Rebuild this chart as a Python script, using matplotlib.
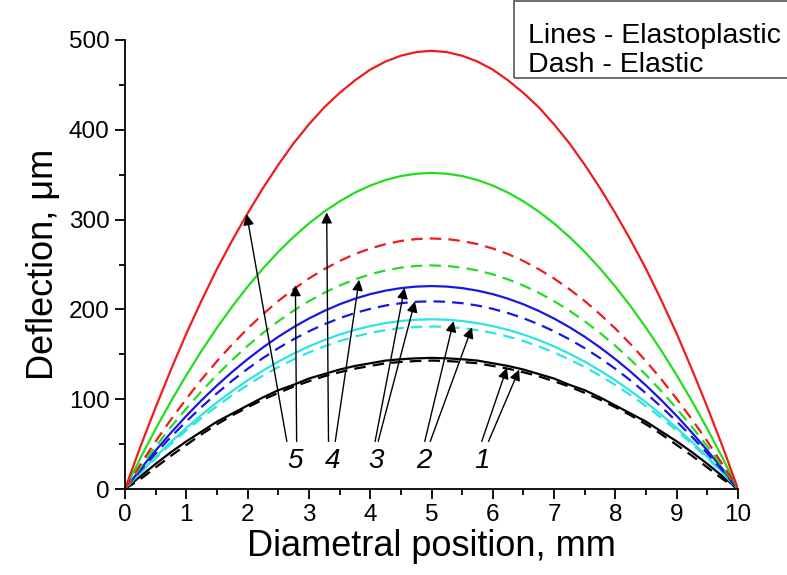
# Deflection profiles across the plate diameter: elastoplastic (solid) vs elastic (dashed)

import matplotlib.pyplot as plt
import numpy as np
from matplotlib.patches import Rectangle
from matplotlib.ticker import MultipleLocator

plt.rcParams['font.family'] = ['Liberation Sans', 'DejaVu Sans']

# Data
# positions 0 .. 10 mm every 0.25 mm
position = np.linspace(0, 10, 41)

# half profiles (0 .. 5 mm), the other half is the mirror image
half_1_solid = [0, 14, 28, 41, 53, 64, 75, 84, 93, 102, 110,
                116, 123, 128, 133, 137, 140, 143, 144.5, 145.5, 146]
half_1_dash = [0, 11, 24, 37, 49, 61, 72, 82, 91, 99.5, 107,
               114, 120, 125.5, 130, 134, 137, 140, 141.5, 142.5, 143]
half_2_solid = [0, 18.4, 35.9, 52.4, 68, 82.7, 96.4, 109.1, 121, 131.8, 141.8,
                150.7, 158.8, 165.8, 172, 177.2, 181.4, 184.7, 187.1, 188.5, 189]
half_2_dash = [0, 17.6, 34.4, 50.2, 65.2, 79.2, 92.3, 104.5, 115.8, 126.2, 135.8,
               144.3, 152, 158.8, 164.7, 169.7, 173.8, 176.9, 179.2, 180.5, 181]
half_3_solid = [0, 22, 42.9, 62.7, 81.4, 98.9, 115.3, 130.5, 144.6, 157.6, 169.5,
                180.2, 189.8, 198.3, 205.7, 211.9, 217, 220.9, 223.7, 225.4, 226]
half_3_dash = [0, 20.4, 39.7, 58, 75.2, 91.4, 106.6, 120.7, 133.8, 145.8, 156.8,
               166.7, 175.6, 183.4, 190.2, 195.9, 200.6, 204.3, 206.9, 208.5, 209]
half_4_solid = [0, 34.3, 66.9, 97.7, 126.7, 154, 179.5, 203.3, 225.3, 245.5, 264,
                280.7, 295.7, 308.9, 320.3, 330, 337.9, 344.1, 348.5, 351.1, 352]
half_4_dash = [0, 24.3, 47.3, 69.1, 89.6, 108.9, 127, 143.8, 159.4, 173.7, 186.8,
               198.6, 209.2, 218.5, 226.6, 233.4, 239, 243.4, 246.5, 248.4, 249]
half_5_solid = [0, 47, 91, 133, 173, 210, 245, 277, 307, 335, 361,
                385, 406, 425, 441, 455, 467, 476, 482.5, 486.5, 488]
half_5_dash = [0, 27.2, 53, 77.4, 100.4, 122.1, 142.3, 161.1, 178.6, 194.6, 209.3,
               222.5, 234.4, 244.8, 253.9, 261.6, 267.8, 272.7, 276.2, 278.3, 279]

labels = ['1', '2', '3', '4', '5']
colors = ['black', '#2ee3e3', '#1818e0', '#22dd22', '#ee1c1c']
label_x = [5.82, 4.87, 4.10, 3.39, 2.77]
label_y = 31
# arrow tails (x) and heads (x, y) for solid and dashed curves of each case
tail_x = [(5.82, 5.93), (4.89, 4.98), (4.08, 4.13), (3.32, 3.43), (2.64, 2.80)]
tail_y = 53
head_solid = [(6.23, 135), (5.36, 187), (4.56, 224), (3.29, 308), (1.985, 306)]
head_dash = [(6.43, 133), (5.66, 180), (4.73, 209), (3.82, 233), (2.78, 227)]


def full(half):
    return half + half[-2::-1]


solids = [half_1_solid, half_2_solid, half_3_solid, half_4_solid, half_5_solid]
dashes = [half_1_dash, half_2_dash, half_3_dash, half_4_dash, half_5_dash]

fig = plt.figure(figsize=(7.87, 5.75), dpi=100)
ax = fig.add_axes([125 / 787, 86 / 575, 613 / 787, 449 / 575])

for i in range(5):
    ax.plot(position, full(solids[i]), color=colors[i], lw=1.6)
    ax.plot(position, full(dashes[i]), color=colors[i], lw=1.6, dashes=(5.2, 3.2))

for i in range(5):
    for (tx, (hx, hy)) in zip(tail_x[i], [head_solid[i], head_dash[i]]):
        ax.annotate('', xy=(hx, hy), xytext=(tx, tail_y),
                    arrowprops=dict(arrowstyle='-|>', color='black', lw=1.0,
                                    mutation_scale=16, shrinkA=0, shrinkB=0))
    ax.text(label_x[i], label_y, labels[i], fontsize=20, style='italic',
            ha='center', va='center')

ax.set_xlim(0, 10)
ax.set_ylim(0, 500)
ax.spines['top'].set_visible(False)
ax.spines['right'].set_visible(False)
ax.spines['left'].set_linewidth(1.3)
ax.spines['bottom'].set_linewidth(1.3)
ax.xaxis.set_major_locator(MultipleLocator(1))
ax.xaxis.set_minor_locator(MultipleLocator(0.5))
ax.yaxis.set_major_locator(MultipleLocator(100))
ax.yaxis.set_minor_locator(MultipleLocator(50))
ax.tick_params(which='major', direction='out', length=7, width=1.3, labelsize=17.5, pad=4)
ax.tick_params(which='minor', direction='out', length=4, width=1.3)

ax.set_xlabel('Diametral position, mm', fontsize=26, labelpad=2)
ax.set_ylabel('Deflection, \u03bcm', fontsize=26, labelpad=6)

# note box in the top right corner
fig.patches.append(Rectangle((514 / 787, 497 / 575), 0.4, 77 / 575, transform=fig.transFigure,
                             fill=False, edgecolor='#555555', lw=1.2))
fig.text(528 / 787, 1 - 43 / 575, 'Lines - Elastoplastic', fontsize=20.5, va='baseline')
fig.text(528 / 787, 1 - 72 / 575, 'Dash - Elastic', fontsize=20.5, va='baseline')

plt.savefig('out.png', dpi=100)
